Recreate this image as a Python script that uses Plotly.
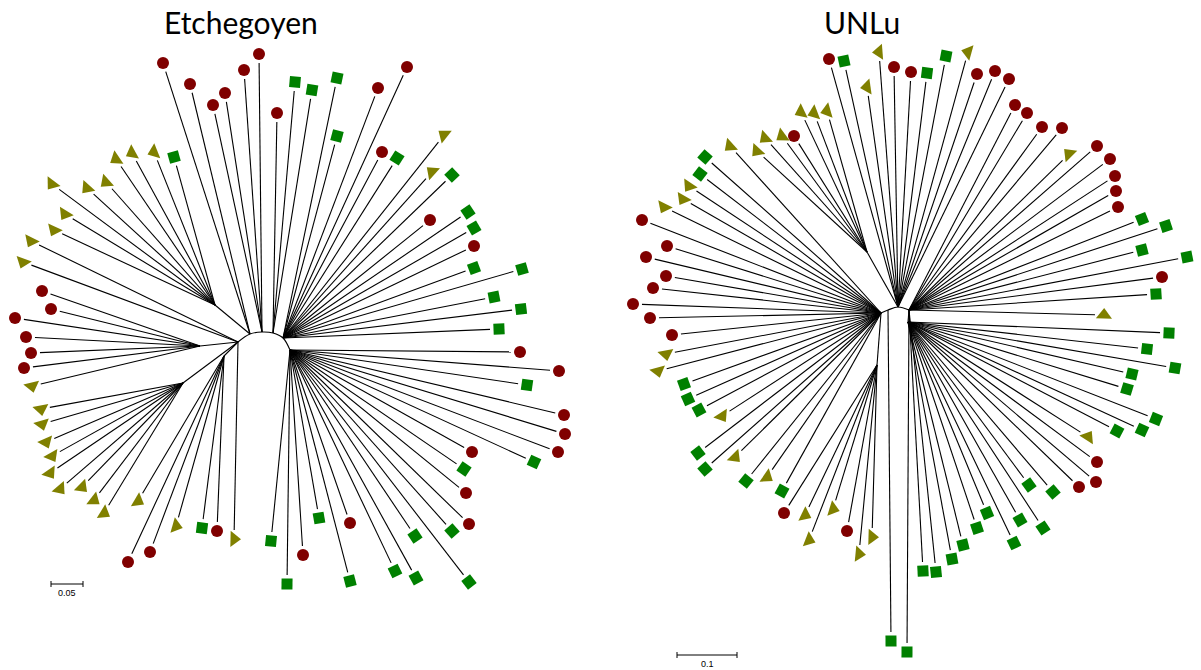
import math
import plotly.graph_objects as go

# ---- Etchegoyen tree (layout coordinates) ----
etch_node_x = [238, 250, 262, 273, 283, 290, 183, 224, 215, 200]
etch_node_y = [342, 334, 332, 333, 338, 350, 383, 356, 305, 346]
etch_node_parent = [-1, -1, -1, -1, -1, -1, 0, 0, 1, 0]
etch_arc = [0, 1, 2, 3, 4, 5]

etch_tip_x = [163, 190, 213, 225, 244, 259, 277, 295, 312, 337, 378, 407, 337, 382, 397,
              444, 432, 452, 468, 474, 430, 474, 474, 522, 494, 521, 499,
              520, 559, 527, 564, 565, 558, 534, 472, 464, 466, 469, 452, 415, 350,
              319, 303, 287, 350, 395, 416, 469, 271,
              234, 217, 202, 176, 150, 128, 138,
              104, 94, 82, 60, 50, 52, 46, 42, 41,
              32, 24, 31, 26, 15, 51, 42,
              23, 31, 54, 65, 52, 87, 106, 116, 132, 154, 174]
etch_tip_y = [63, 84, 105, 93, 70, 54, 113, 82, 90, 78, 88, 67, 136, 152, 158,
              135, 172, 175, 212, 228, 220, 246, 268, 269, 297, 309, 329,
              352, 371, 385, 415, 434, 452, 462, 452, 469, 493, 524, 531, 536, 523,
              518, 555, 584, 581, 571, 578, 582, 541,
              539, 531, 528, 526, 552, 562, 501,
              513, 500, 487, 489, 473, 456, 442, 424, 409,
              386, 368, 353, 337, 318, 309, 291,
              262, 241, 230, 214, 184, 188, 182, 159, 153, 152, 157]
etch_tip_group = ["c", "c", "c", "c", "c", "c", "c", "s", "s", "s", "c", "c", "s", "c", "s",
                  "t", "t", "s", "s", "s", "c", "c", "s", "s", "s", "s", "s",
                  "c", "c", "s", "c", "c", "c", "s", "c", "s", "c", "c", "s", "s", "c",
                  "s", "c", "s", "s", "s", "s", "s", "s",
                  "t", "c", "s", "t", "c", "c", "t",
                  "t", "t", "t", "t", "t", "t", "t", "t", "t",
                  "t", "c", "c", "c", "c", "c", "c",
                  "t", "t", "t", "t", "t", "t", "t", "t", "t", "t", "s"]
etch_tip_node = [1, 1, 2, 2, 2, 2, 3, 3, 3, 4, 4, 4, 4, 4, 4,
                 4, 4, 4, 4, 4, 4, 4, 4, 4, 4, 4, 4,
                 5, 5, 5, 5, 5, 5, 5, 5, 5, 5, 5, 5, 5, 5,
                 5, 5, 5, 5, 5, 5, 5, 5,
                 0, 7, 7, 7, 7, 7, 7,
                 6, 6, 6, 6, 6, 6, 6, 6, 6,
                 9, 9, 9, 9, 9, 9, 9,
                 0, 0, 8, 8, 8, 8, 8, 8, 8, 8, 8]

# ---- UNLu tree ----
unlu_node_x = [881, 898, 909, 888, 867, 877, 908]
unlu_node_y = [313, 307, 310, 310, 252, 365, 322]
unlu_node_parent = [-1, -1, -1, -1, 1, 0, 2]
unlu_arc = [0, 3, 1, 2]

unlu_tip_x = [829, 844, 879, 867, 894, 911, 927, 946, 968, 977, 995, 1009,
              1015, 1027, 1042, 1062, 1069, 1097, 1110, 1115, 1116, 1118, 1142, 1166, 1142,
              1187, 1162, 1156, 1104,
              1169, 1147, 1175, 1132, 1127, 1156, 1117, 1142, 1088, 1097, 1096, 1079, 1029,
              1053, 1020, 1043, 987, 977, 1014, 963, 952,
              936, 923, 907, 891,
              801, 814, 827, 794, 782, 765, 757,
              730, 705, 700, 689, 683, 664, 642, 667, 646, 666, 653, 633, 650, 672, 666,
              658, 684, 688, 699, 722, 698, 705, 735, 746, 767, 782,
              784, 805, 833, 809, 847, 872, 859]
unlu_tip_y = [59, 61, 52, 87, 67, 72, 73, 56, 52, 74, 71, 79,
              105, 113, 127, 128, 154, 146, 159, 176, 191, 207, 219, 226, 250,
              257, 277, 294, 315,
              333, 349, 368, 374, 389, 419, 431, 430, 437, 462, 482, 487, 485,
              492, 520, 528, 513, 528, 543, 545, 559,
              572, 571, 652, 641,
              112, 113, 111, 136, 136, 138, 151,
              146, 157, 174, 186, 199, 207, 220, 246, 257, 276, 288, 304, 318, 335, 354,
              371, 384, 399, 410, 416, 453, 469, 457, 481, 477, 491,
              513, 515, 509, 540, 531, 537, 554]
unlu_tip_group = ["c", "s", "t", "t", "c", "c", "s", "s", "t", "c", "c", "c",
                  "c", "c", "c", "c", "t", "c", "c", "c", "c", "c", "s", "s", "s",
                  "s", "c", "s", "t",
                  "s", "s", "s", "s", "s", "s", "s", "s", "t", "c", "c", "c", "s",
                  "s", "s", "s", "s", "s", "s", "s", "s",
                  "s", "s", "s", "s",
                  "t", "t", "t", "c", "t", "t", "t",
                  "t", "s", "s", "t", "t", "t", "c", "c", "c", "c", "c", "c", "c", "c", "t",
                  "t", "s", "s", "s", "t", "s", "s", "t", "s", "t", "s",
                  "c", "t", "t", "t", "c", "t", "t"]
unlu_tip_node = [1, 1, 1, 1, 1, 1, 1, 1, 1, 1, 1, 1,
                 2, 2, 2, 2, 2, 2, 2, 2, 2, 2, 2, 2, 2,
                 2, 2, 2, 2,
                 6, 6, 6, 6, 6, 6, 6, 6, 6, 6, 6, 6, 6,
                 6, 6, 6, 6, 6, 6, 6, 6,
                 2, 2, 2, 3,
                 4, 4, 4, 4, 4, 4, 4,
                 0, 0, 0, 0, 0, 0, 0, 0, 0, 0, 0, 0, 0, 0, 0,
                 0, 0, 0, 0, 0, 0, 0, 0, 0, 0, 0,
                 5, 5, 5, 5, 5, 5, 5]

group_symbol = {"c": "circle", "s": "square", "t": "triangle-up"}
group_color = {"c": "#800000", "s": "#008000", "t": "#808000"}
group_size = {"c": 12, "s": 11, "t": 14}

fig = go.Figure()


def add_tree(nx, ny, npar, arc, tx, ty, tg, tn):
    ex, ey = [], []
    # arc joining the central nodes
    fig.add_trace(go.Scatter(x=[nx[i] for i in arc], y=[ny[i] for i in arc], mode="lines",
                             line=dict(color="black", width=1.1, shape="spline"),
                             hoverinfo="skip", showlegend=False))
    for i, p in enumerate(npar):
        if p >= 0:
            ex += [nx[p], nx[i], None]
            ey += [ny[p], ny[i], None]
    angles = []
    for x, y, g, n in zip(tx, ty, tg, tn):
        dx, dy = x - nx[n], y - ny[n]
        d = math.hypot(dx, dy)
        gap = 9 if d > 20 else 0
        ex += [nx[n], x - dx / d * gap, None]
        ey += [ny[n], y - dy / d * gap, None]
        bearing = math.degrees(math.atan2(dx, -dy))
        angles.append(bearing - 90 if g == "t" else bearing)
    fig.add_trace(go.Scatter(x=ex, y=ey, mode="lines", line=dict(color="black", width=1.1),
                             hoverinfo="skip", showlegend=False))
    fig.add_trace(go.Scatter(
        x=tx, y=ty, mode="markers", showlegend=False,
        marker=dict(symbol=[group_symbol[g] for g in tg],
                    color=[group_color[g] for g in tg],
                    size=[group_size[g] for g in tg],
                    opacity=1, angle=angles, line=dict(width=0))))


add_tree(etch_node_x, etch_node_y, etch_node_parent, etch_arc,
         etch_tip_x, etch_tip_y, etch_tip_group, etch_tip_node)
add_tree(unlu_node_x, unlu_node_y, unlu_node_parent, unlu_arc,
         unlu_tip_x, unlu_tip_y, unlu_tip_group, unlu_tip_node)

# scale bars
scale_labels = ["0.05", "0.1"]
scale_x0 = [51, 677]
scale_x1 = [83, 737]
scale_y = [584, 655]
for lab, x0, x1, y in zip(scale_labels, scale_x0, scale_x1, scale_y):
    fig.add_trace(go.Scatter(x=[x0, x1, None, x0, x0, None, x1, x1],
                             y=[y, y, None, y - 3, y + 3, None, y - 3, y + 3],
                             mode="lines", line=dict(color="black", width=1),
                             hoverinfo="skip", showlegend=False))
    fig.add_annotation(x=(x0 + x1) / 2, y=y + 9, text=lab, showarrow=False,
                       font=dict(family="Liberation Sans", size=9, color="black"))

titles = ["Etchegoyen", "UNLu"]
title_x = [241, 862]
for t, x in zip(titles, title_x):
    fig.add_annotation(x=x, y=22, text=t, showarrow=False,
                       font=dict(family="Lato", size=30, color="black"))

fig.update_layout(
    width=1201, height=670,
    margin=dict(l=0, r=0, t=0, b=0),
    paper_bgcolor="white", plot_bgcolor="white",
    xaxis=dict(range=[0, 1201], visible=False, fixedrange=True),
    yaxis=dict(range=[670, 0], visible=False, fixedrange=True),
)

fig.write_html("out.html", config={"displayModeBar": False},
               post_script="document.body.style.margin='0';")
